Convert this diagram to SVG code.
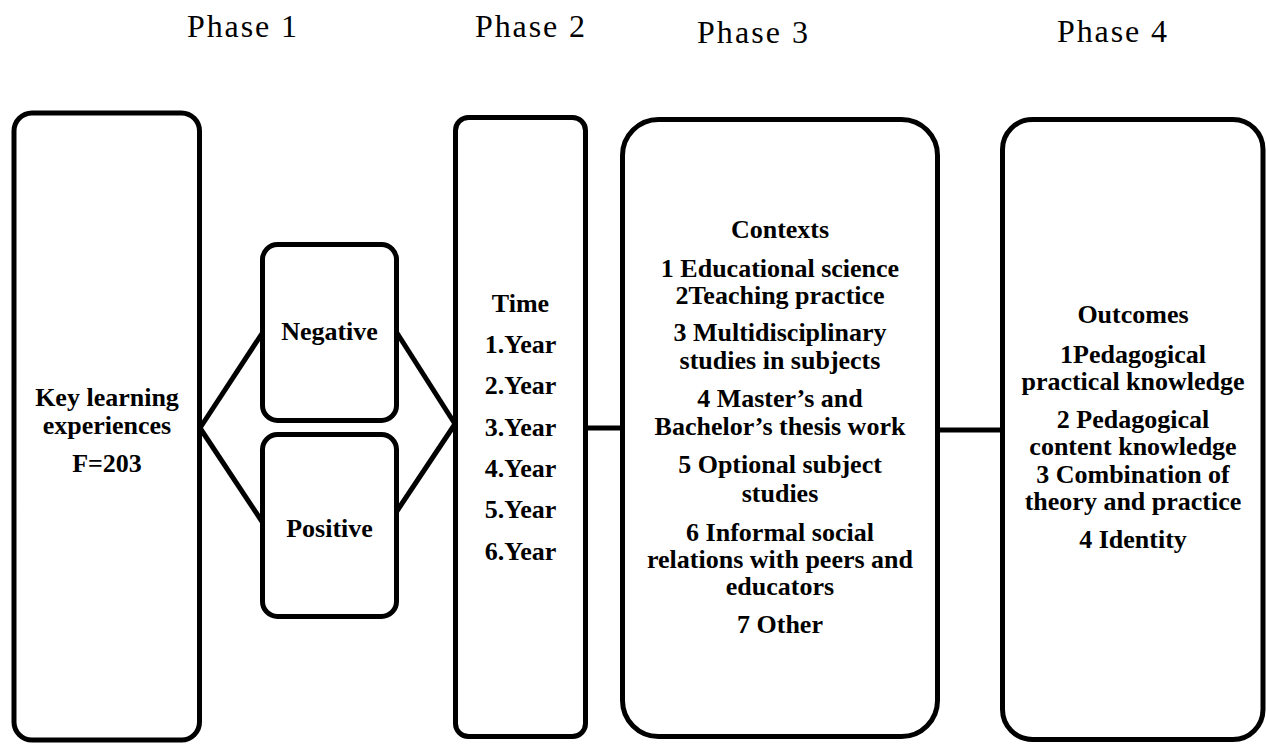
<svg xmlns="http://www.w3.org/2000/svg" width="1266" height="744" viewBox="0 0 1266 744">
<style>
.box{fill:#fff;stroke:#000;stroke-width:5}
.ln{stroke:#000;stroke-width:5;fill:none}
.t{font-family:"Liberation Serif","Times New Roman",serif;font-weight:bold;font-size:26px;text-anchor:middle;fill:#000}
.ph{font-family:"Liberation Serif","Times New Roman",serif;font-size:32px;fill:#000}
</style>
<rect width="1266" height="744" fill="#fff"/>
<g id="phases">
<text class="ph" x="187" y="37" textLength="110" lengthAdjust="spacing">Phase 1</text>
<text class="ph" x="475" y="37" textLength="110" lengthAdjust="spacing">Phase 2</text>
<text class="ph" x="697" y="43" textLength="111" lengthAdjust="spacing">Phase 3</text>
<text class="ph" x="1057" y="42" textLength="110" lengthAdjust="spacing">Phase 4</text>
</g>
<g id="connectors">
<line class="ln" x1="200" y1="428" x2="263" y2="332"/>
<line class="ln" x1="200" y1="428" x2="263" y2="523"/>
<line class="ln" x1="397" y1="333" x2="455" y2="424"/>
<line class="ln" x1="397" y1="511" x2="455" y2="424"/>
<line class="ln" x1="585" y1="428" x2="623" y2="428"/>
<line class="ln" x1="937" y1="430" x2="1003" y2="430"/>
</g>
<g id="key">
<rect class="box" x="14" y="113" width="185.5" height="627" rx="18"/>
<text class="t" x="107" y="406">Key learning</text>
<text class="t" x="107" y="434">experiences</text>
<text class="t" x="107" y="472">F=203</text>
</g>
<g id="negative">
<rect class="box" x="262.5" y="244.5" width="134" height="176" rx="15"/>
<text class="t" x="329.5" y="340">Negative</text>
</g>
<g id="positive">
<rect class="box" x="262.5" y="434.5" width="134" height="182" rx="15"/>
<text class="t" x="329.5" y="537">Positive</text>
</g>
<g id="time">
<rect class="box" x="455.5" y="117.5" width="130" height="619" rx="13"/>
<text class="t" x="520.5" y="312">Time</text>
<text class="t" x="520.5" y="353">1.Year</text>
<text class="t" x="520.5" y="394">2.Year</text>
<text class="t" x="520.5" y="436">3.Year</text>
<text class="t" x="520.5" y="477">4.Year</text>
<text class="t" x="520.5" y="518">5.Year</text>
<text class="t" x="520.5" y="560">6.Year</text>
</g>
<g id="contexts">
<rect class="box" x="622.5" y="119.5" width="315" height="617" rx="36"/>
<text class="t" x="780" y="238">Contexts</text>
<text class="t" x="780" y="277">1 Educational science</text>
<text class="t" x="780" y="304">2Teaching practice</text>
<text class="t" x="780" y="341">3 Multidisciplinary</text>
<text class="t" x="780" y="369">studies in subjects</text>
<text class="t" x="780" y="407">4 Master’s and</text>
<text class="t" x="780" y="435">Bachelor’s thesis work</text>
<text class="t" x="780" y="473">5 Optional subject</text>
<text class="t" x="780" y="502">studies</text>
<text class="t" x="780" y="541">6 Informal social</text>
<text class="t" x="780" y="568">relations with peers and</text>
<text class="t" x="780" y="595">educators</text>
<text class="t" x="780" y="633">7 Other</text>
</g>
<g id="outcomes">
<rect class="box" x="1002.5" y="119.5" width="260.5" height="620" rx="30"/>
<text class="t" x="1133" y="323">Outcomes</text>
<text class="t" x="1133" y="363">1Pedagogical</text>
<text class="t" x="1133" y="390">practical knowledge</text>
<text class="t" x="1133" y="428">2 Pedagogical</text>
<text class="t" x="1133" y="455">content knowledge</text>
<text class="t" x="1133" y="483">3 Combination of</text>
<text class="t" x="1133" y="510">theory and practice</text>
<text class="t" x="1133" y="548">4 Identity</text>
</g>
</svg>
